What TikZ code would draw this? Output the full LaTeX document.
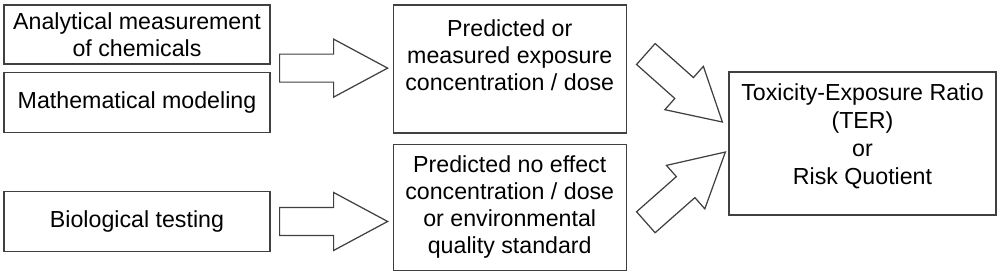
\documentclass[tikz,border=0pt]{standalone}
\usepackage{fontspec}
\setmainfont{Liberation Sans}
\usetikzlibrary{positioning,calc}

% wide hollow arrow from #1 (tail) to #2 (tip)
\newcommand{\fatarrow}[2]{%
  \coordinate (mid) at ($(#1)!0.5!(#2)$);
  \draw[fat] ($(#1)!0.28cm!90:(#2)$) -- ($(mid)!0.28cm!90:(#2)$) -- ($(mid)!0.58cm!90:(#2)$)
    -- (#2) -- ($(mid)!0.58cm!-90:(#2)$) -- ($(mid)!0.28cm!-90:(#2)$) -- ($(#1)!0.28cm!-90:(#2)$) -- cycle;}

\begin{document}
\begin{tikzpicture}[
    box/.style={draw=black!75, line width=0.7pt, align=center, font=\fontsize{13.2}{15.4}\selectfont},
    src/.style={box, minimum width=5.32cm, minimum height=1.2cm},
    mid/.style={box, minimum width=4.66cm},
    fat/.style={draw=black!75, fill=white, line width=0.7pt, line join=miter}
]
\useasboundingbox (0,0) rectangle (20,-5.5);

% Sources on the left
\node[src, minimum height=1.18cm] (meas) at (2.74,-0.69) {Analytical measurement\\of chemicals};
\node[src, below=0.14cm of meas] (model) {Mathematical modeling};
\node[src, below=1.16cm of model] (bio) {Biological testing};

% Exposure and effect levels
\node[mid, minimum height=2.56cm, anchor=north west] (expo) at ([xshift=2.44cm]meas.north east)
  {Predicted or\\measured exposure\\concentration / dose\rule[-0.56cm]{0pt}{0.56cm}};
\node[mid, minimum height=2.52cm, below=0.2cm of expo] (pnec)
  {Predicted no effect\\concentration / dose\\or environmental\\quality standard};

% Result
\node[box, minimum width=5.34cm, minimum height=2.86cm, font=\fontsize{13.2}{16}\selectfont] (ter) at (17.25,-2.87)
  {Toxicity-Exposure Ratio\\(TER)\\or\\Risk Quotient\rule[-0.38cm]{0pt}{0.38cm}};

% Arrow ends
\coordinate (a1s) at ($(meas.south east)!0.5!(model.north east)+(0.18,0)$);
\coordinate (a1e) at ([xshift=-0.1cm]a1s -| expo.west);
\coordinate (a2s) at ([xshift=0.18cm]bio.east);
\coordinate (a2e) at ([xshift=-0.1cm]a2s -| pnec.west);
\coordinate (a3s) at ([xshift=0.38cm,yshift=0.3cm]expo.east);
\coordinate (a3e) at ([xshift=-0.12cm,yshift=0.43cm]ter.west);
\coordinate (a4s) at ([xshift=0.38cm,yshift=-0.3cm]pnec.east);
\coordinate (a4e) at ([xshift=-0.06cm,yshift=-0.17cm]ter.west);

\fatarrow{a1s}{a1e}
\fatarrow{a2s}{a2e}
\fatarrow{a3s}{a3e}
\fatarrow{a4s}{a4e}
\end{tikzpicture}
\end{document}
